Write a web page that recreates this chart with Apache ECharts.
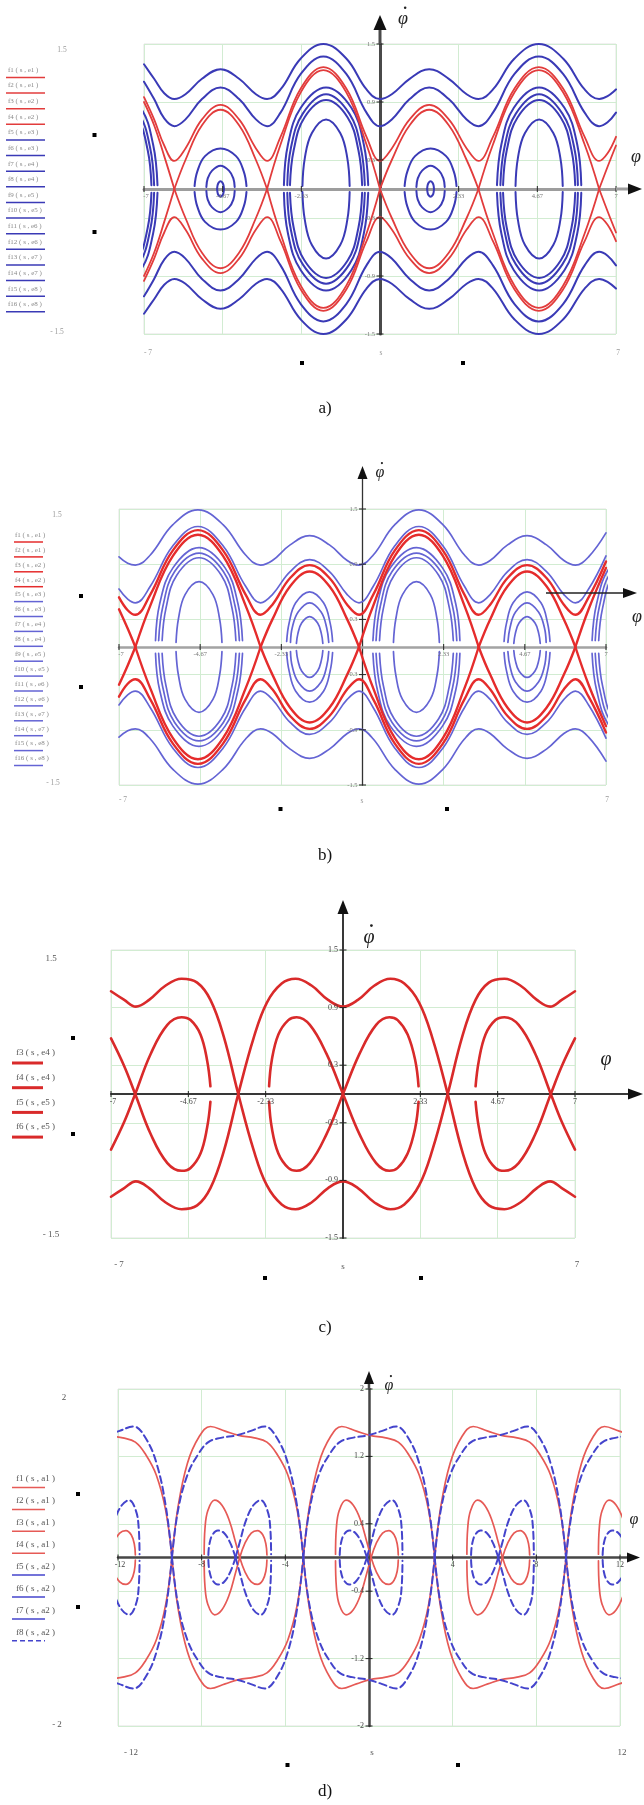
<!DOCTYPE html>
<html>
<head>
<meta charset="utf-8">
<script src="https://cdn.jsdelivr.net/npm/echarts@6/dist/echarts.min.js"></script>
<style>
  html, body { margin: 0; padding: 0; background: #fff; }
  #chart { width: 644px; height: 1805px; }
</style>
</head>
<body>
<div id="chart"></div>
<script>
// ---------------- Panel a: phase trajectories, φ in [-7, 7] ----------------
// common φ grid for the unbounded (rotational) trajectories and separatrices
const aPhi = [-7,-6.7,-6.4,-6.1,-5.77,-5.28,-4.73,-4.18,-3.68,-3.35,-2.95,-2.35,-1.68,-1.0,-0.4,0,0.35,0.88,1.46,2.04,2.57,2.92,3.35,3.99,4.71,5.43,6.07,6.5,6.75,7];
const aSepUp = [0.9,0.66,0.34,0,0.3,0.66,0.82,0.66,0.3,0,0.46,1.0,1.23,1.0,0.46,0,0.3,0.66,0.82,0.66,0.3,0,0.46,1.0,1.23,1.0,0.46,0,0.23,0.45];
const aSepDn = [-0.9,-0.66,-0.34,0,-0.3,-0.66,-0.82,-0.66,-0.3,0,-0.46,-1.0,-1.23,-1.0,-0.46,0,-0.3,-0.66,-0.82,-0.66,-0.3,0,-0.46,-1.0,-1.23,-1.0,-0.46,0,-0.23,-0.45];
const aRedRotUp = [0.95,0.72,0.45,0.29,0.42,0.72,0.87,0.72,0.42,0.29,0.54,1.04,1.26,1.04,0.54,0.29,0.42,0.72,0.87,0.72,0.42,0.29,0.54,1.04,1.26,1.04,0.54,0.29,0.37,0.54];
const aRedRotDn = [-0.95,-0.72,-0.45,-0.29,-0.42,-0.72,-0.87,-0.72,-0.42,-0.29,-0.54,-1.04,-1.26,-1.04,-0.54,-0.29,-0.42,-0.72,-0.87,-0.72,-0.42,-0.29,-0.54,-1.04,-1.26,-1.04,-0.54,-0.29,-0.37,-0.54];
const aBlue1Up = [1.29,1.14,0.99,0.93,0.98,1.14,1.24,1.14,0.98,0.93,1.03,1.35,1.5,1.35,1.03,0.93,0.98,1.14,1.24,1.14,0.98,0.93,1.03,1.35,1.5,1.35,1.03,0.93,0.96,1.03];
const aBlue1Dn = [-1.29,-1.14,-0.99,-0.93,-0.98,-1.14,-1.24,-1.14,-0.98,-0.93,-1.03,-1.35,-1.5,-1.35,-1.03,-0.93,-0.98,-1.14,-1.24,-1.14,-0.98,-0.93,-1.03,-1.35,-1.5,-1.35,-1.03,-0.93,-0.96,-1.03];
const aBlue2Up = [1.11,0.93,0.73,0.65,0.72,0.93,1.05,0.93,0.72,0.65,0.79,1.19,1.37,1.19,0.79,0.65,0.72,0.93,1.05,0.93,0.72,0.65,0.79,1.19,1.37,1.19,0.79,0.65,0.69,0.79];
const aBlue2Dn = [-1.11,-0.93,-0.73,-0.65,-0.72,-0.93,-1.05,-0.93,-0.72,-0.65,-0.79,-1.19,-1.37,-1.19,-0.79,-0.65,-0.72,-0.93,-1.05,-0.93,-0.72,-0.65,-0.79,-1.19,-1.37,-1.19,-0.79,-0.65,-0.69,-0.79];
// closed orbits: upper / lower branch heights
const aS1Up = [0.03,0.18,0.34,0.42,0.34,0.18,0.03],  aS1Dn = [-0.03,-0.18,-0.34,-0.42,-0.34,-0.18,-0.03];
const aS2Up = [0.02,0.11,0.19,0.24,0.19,0.11,0.02],  aS2Dn = [-0.02,-0.11,-0.19,-0.24,-0.19,-0.11,-0.02];
const aS3Up = [0,0.035,0.064,0.08,0.064,0.035,0],    aS3Dn = [0,-0.035,-0.064,-0.08,-0.064,-0.035,0];
const aL1Up = [0.04,0.46,0.84,1.05,0.84,0.46,0.04],  aL1Dn = [-0.04,-0.46,-0.84,-1.05,-0.84,-0.46,-0.04];
const aL2Up = [0.04,0.43,0.78,0.98,0.78,0.43,0.04],  aL2Dn = [-0.04,-0.43,-0.78,-0.98,-0.78,-0.43,-0.04];
const aL3Up = [0.04,0.40,0.74,0.92,0.74,0.40,0.04],  aL3Dn = [-0.04,-0.40,-0.74,-0.92,-0.74,-0.40,-0.04];
const aL4Up = [0.03,0.32,0.58,0.72,0.58,0.32,0.03],  aL4Dn = [-0.03,-0.32,-0.58,-0.72,-0.58,-0.32,-0.03];
const aOvals = [
  {x:[-5.5,-5.42,-5.19,-4.73,-4.27,-4.04,-3.96], up:aS1Up, dn:aS1Dn},
  {x:[0.73,0.81,1.04,1.5,1.96,2.19,2.27],        up:aS1Up, dn:aS1Dn},
  {x:[-5.15,-5.11,-4.98,-4.73,-4.48,-4.35,-4.31], up:aS2Up, dn:aS2Dn},
  {x:[1.08,1.12,1.25,1.5,1.75,1.88,1.92],        up:aS2Up, dn:aS2Dn},
  {x:[-4.83,-4.82,-4.79,-4.73,-4.67,-4.64,-4.63], up:aS3Up, dn:aS3Dn},
  {x:[1.4,1.41,1.44,1.5,1.56,1.59,1.6],          up:aS3Up, dn:aS3Dn},
  {x:[-2.85,-2.73,-2.35,-1.6,-0.85,-0.48,-0.35], up:aL1Up, dn:aL1Dn},
  {x:[3.47,3.6,3.97,4.72,5.47,5.85,5.97],        up:aL1Up, dn:aL1Dn},
  {x:[-9.1,-8.98,-8.6,-7.85,-7.1,-6.73,-6.6],    up:aL1Up, dn:aL1Dn},
  {x:[-2.75,-2.64,-2.29,-1.6,-0.91,-0.57,-0.45], up:aL2Up, dn:aL2Dn},
  {x:[3.57,3.69,4.03,4.72,5.41,5.76,5.87],       up:aL2Up, dn:aL2Dn},
  {x:[-9.0,-8.89,-8.54,-7.85,-7.16,-6.82,-6.7],  up:aL2Up, dn:aL2Dn},
  {x:[-2.67,-2.56,-2.24,-1.6,-0.96,-0.64,-0.53], up:aL3Up, dn:aL3Dn},
  {x:[3.65,3.76,4.08,4.72,5.36,5.68,5.79],       up:aL3Up, dn:aL3Dn},
  {x:[-8.92,-8.81,-8.49,-7.85,-7.21,-6.89,-6.78], up:aL3Up, dn:aL3Dn},
  {x:[-2.3,-2.23,-2.02,-1.6,-1.18,-0.97,-0.9],   up:aL4Up, dn:aL4Dn},
  {x:[4.02,4.09,4.3,4.72,5.14,5.35,5.42],        up:aL4Up, dn:aL4Dn}
];
const aLegend = ['f1 ( s , e1 )','f2 ( s , e1 )','f3 ( s , e2 )','f4 ( s , e2 )','f5 ( s , e3 )','f6 ( s , e3 )','f7 ( s , e4 )','f8 ( s , e4 )','f9 ( s , e5 )','f10 ( s , e5 )','f11 ( s , e6 )','f12 ( s , e6 )','f13 ( s , e7 )','f14 ( s , e7 )','f15 ( s , e8 )','f16 ( s , e8 )'];

// ---------------- Panel b ----------------
const bPhi = [-7,-6.75,-6.53,-6.1,-5.45,-4.73,-4.01,-3.36,-2.93,-2.59,-2.08,-1.52,-0.95,-0.44,-0.1,0.31,0.93,1.62,2.31,2.93,3.34,3.67,4.17,4.73,5.29,5.79,6.12,6.5,7];
const bSepUp = [0.41,0.2,0,0.45,0.99,1.22,0.99,0.45,0,0.3,0.66,0.82,0.66,0.3,0,0.45,0.99,1.22,0.99,0.45,0,0.3,0.66,0.82,0.66,0.3,0,0.41,0.86];
const bSepDn = [-0.41,-0.2,0,-0.45,-0.99,-1.22,-0.99,-0.45,0,-0.3,-0.66,-0.82,-0.66,-0.3,0,-0.45,-0.99,-1.22,-0.99,-0.45,0,-0.3,-0.66,-0.82,-0.66,-0.3,0,-0.41,-0.86];
const bRedRotUp = [0.54,0.4,0.35,0.57,1.05,1.27,1.05,0.57,0.35,0.46,0.75,0.89,0.75,0.46,0.35,0.57,1.05,1.27,1.05,0.57,0.35,0.46,0.75,0.89,0.75,0.46,0.35,0.54,0.93];
const bRedRotDn = [-0.54,-0.4,-0.35,-0.57,-1.05,-1.27,-1.05,-0.57,-0.35,-0.46,-0.75,-0.89,-0.75,-0.46,-0.35,-0.57,-1.05,-1.27,-1.05,-0.57,-0.35,-0.46,-0.75,-0.89,-0.75,-0.46,-0.35,-0.54,-0.93];
const bBlue1Up = [0.98,0.91,0.89,1.0,1.33,1.49,1.33,1.0,0.89,0.94,1.11,1.21,1.11,0.94,0.89,1.0,1.33,1.49,1.33,1.0,0.89,0.94,1.11,1.21,1.11,0.94,0.89,0.98,1.24];
const bBlue1Dn = [-0.98,-0.91,-0.89,-1.0,-1.33,-1.49,-1.33,-1.0,-0.89,-0.94,-1.11,-1.21,-1.11,-0.94,-0.89,-1.0,-1.33,-1.49,-1.33,-1.0,-0.89,-0.94,-1.11,-1.21,-1.11,-0.94,-0.89,-0.98,-1.24];
const bBlue2Up = [0.63,0.52,0.48,0.66,1.1,1.31,1.1,0.66,0.48,0.57,0.82,0.95,0.82,0.57,0.48,0.66,1.1,1.31,1.1,0.66,0.48,0.57,0.82,0.95,0.82,0.57,0.48,0.63,0.99];
const bBlue2Dn = [-0.63,-0.52,-0.48,-0.66,-1.1,-1.31,-1.1,-0.66,-0.48,-0.57,-0.82,-0.95,-0.82,-0.57,-0.48,-0.66,-1.1,-1.31,-1.1,-0.66,-0.48,-0.57,-0.82,-0.95,-0.82,-0.57,-0.48,-0.63,-0.99];
const bS1Up = [0.06,0.26,0.48,0.6,0.48,0.26,0.06],   bS1Dn = [-0.06,-0.26,-0.48,-0.6,-0.48,-0.26,-0.06];
const bS2Up = [0.05,0.21,0.38,0.48,0.38,0.21,0.05],  bS2Dn = [-0.05,-0.21,-0.38,-0.48,-0.38,-0.21,-0.05];
const bS3Up = [0.04,0.14,0.26,0.33,0.26,0.14,0.04],  bS3Dn = [-0.04,-0.14,-0.26,-0.33,-0.26,-0.14,-0.04];
const bL1Up = [0.07,0.47,0.86,1.08,0.86,0.47,0.07],  bL1Dn = [-0.07,-0.47,-0.86,-1.08,-0.86,-0.47,-0.07];
const bL2Up = [0.07,0.44,0.82,1.02,0.82,0.44,0.07],  bL2Dn = [-0.07,-0.44,-0.82,-1.02,-0.82,-0.44,-0.07];
const bL3Up = [0.07,0.42,0.78,0.97,0.78,0.42,0.07],  bL3Dn = [-0.07,-0.42,-0.78,-0.97,-0.78,-0.42,-0.07];
const bL4Up = [0.05,0.31,0.57,0.71,0.57,0.31,0.05],  bL4Dn = [-0.05,-0.31,-0.57,-0.71,-0.57,-0.31,-0.05];
const bOvals = [
  {x:[-2.18,-2.11,-1.92,-1.52,-1.12,-0.93,-0.86], up:bS1Up, dn:bS1Dn},
  {x:[4.07,4.14,4.33,4.73,5.13,5.32,5.39],        up:bS1Up, dn:bS1Dn},
  {x:[-2.07,-2.02,-1.85,-1.52,-1.19,-1.03,-0.97], up:bS2Up, dn:bS2Dn},
  {x:[4.18,4.24,4.4,4.73,5.06,5.23,5.28],         up:bS2Up, dn:bS2Dn},
  {x:[-1.9,-1.86,-1.75,-1.52,-1.29,-1.18,-1.14],  up:bS3Up, dn:bS3Dn},
  {x:[4.35,4.39,4.5,4.73,4.96,5.07,5.11],         up:bS3Up, dn:bS3Dn},
  {x:[-5.95,-5.83,-5.45,-4.7,-3.95,-3.58,-3.45],  up:bL1Up, dn:bL1Dn},
  {x:[0.3,0.43,0.8,1.55,2.3,2.68,2.8],            up:bL1Up, dn:bL1Dn},
  {x:[6.6,6.73,7.1,7.85,8.6,8.98,9.1],            up:bL1Up, dn:bL1Dn},
  {x:[-5.86,-5.74,-5.4,-4.7,-4.0,-3.66,-3.54],    up:bL2Up, dn:bL2Dn},
  {x:[0.39,0.51,0.85,1.55,2.25,2.59,2.71],        up:bL2Up, dn:bL2Dn},
  {x:[6.69,6.81,7.15,7.85,8.55,8.89,9.01],        up:bL2Up, dn:bL2Dn},
  {x:[-5.76,-5.65,-5.34,-4.7,-4.06,-3.75,-3.64],  up:bL3Up, dn:bL3Dn},
  {x:[0.49,0.6,0.91,1.55,2.19,2.5,2.61],          up:bL3Up, dn:bL3Dn},
  {x:[6.79,6.9,7.21,7.85,8.49,8.8,8.91],          up:bL3Up, dn:bL3Dn},
  {x:[-5.36,-5.29,-5.1,-4.7,-4.3,-4.11,-4.04],    up:bL4Up, dn:bL4Dn},
  {x:[0.89,0.96,1.15,1.55,1.95,2.14,2.21],        up:bL4Up, dn:bL4Dn}
];
const bLegend = ['f1 ( s , e1 )','f2 ( s , e1 )','f3 ( s , e2 )','f4 ( s , e2 )','f5 ( s , e3 )','f6 ( s , e3 )','f7 ( s , e4 )','f8 ( s , e4 )','f9 ( s , e5 )','f10 ( s , e5 )','f11 ( s , e6 )','f12 ( s , e6 )','f13 ( s , e7 )','f14 ( s , e7 )','f15 ( s , e8 )','f16 ( s , e8 )'];

// ---------------- Panel c ----------------
const cPhi = [-7,-6.6,-6.25,-5.85,-5.35,-4.87,-4.4,-4.0,-3.6,-3.16,-2.7,-2.3,-1.85,-1.43,-0.95,-0.45,0,0.45,0.95,1.43,1.85,2.3,2.7,3.16,3.6,4.0,4.4,4.87,5.35,5.85,6.25,6.6,7];
const cOuterA = [1.07,0.98,0.91,0.98,1.13,1.2,1.16,0.98,0.6,0,-0.58,-0.95,-1.15,-1.2,-1.13,-0.98,-0.91,-0.98,-1.13,-1.2,-1.15,-0.95,-0.58,0,0.6,0.98,1.16,1.2,1.13,0.98,0.91,0.98,1.07];
const cOuterB = [-1.07,-0.98,-0.91,-0.98,-1.13,-1.2,-1.16,-0.98,-0.6,0,0.58,0.95,1.15,1.2,1.13,0.98,0.91,0.98,1.13,1.2,1.15,0.95,0.58,0,-0.6,-0.98,-1.16,-1.2,-1.13,-0.98,-0.91,-0.98,-1.07];
const cInner = [
  [[-2.23,0.08],[-2.15,0.35],[-1.95,0.62],[-1.65,0.77],[-1.4,0.8],[-1.0,0.72],[-0.5,0.42],[0,0],[0.5,-0.42],[1.0,-0.72],[1.4,-0.8],[1.65,-0.77],[1.95,-0.62],[2.18,-0.35],[2.28,-0.08]],
  [[-2.23,-0.08],[-2.15,-0.35],[-1.95,-0.62],[-1.65,-0.77],[-1.4,-0.8],[-1.0,-0.72],[-0.5,-0.42],[0,0],[0.5,0.42],[1.0,0.72],[1.4,0.8],[1.65,0.77],[1.95,0.62],[2.18,0.35],[2.28,0.08]],
  [[-7,0.58],[-6.6,0.29],[-6.27,0],[-5.8,-0.42],[-5.3,-0.72],[-4.87,-0.8],[-4.6,-0.77],[-4.3,-0.62],[-4.1,-0.35],[-4.0,-0.08]],
  [[-7,-0.58],[-6.6,-0.29],[-6.27,0],[-5.8,0.42],[-5.3,0.72],[-4.87,0.8],[-4.6,0.77],[-4.3,0.62],[-4.1,0.35],[-4.0,0.08]],
  [[4.0,0.08],[4.1,0.35],[4.3,0.62],[4.6,0.77],[4.87,0.8],[5.3,0.72],[5.8,0.42],[6.27,0],[6.6,-0.29],[7,-0.58]],
  [[4.0,-0.08],[4.1,-0.35],[4.3,-0.62],[4.6,-0.77],[4.87,-0.8],[5.3,-0.72],[5.8,-0.42],[6.27,0],[6.6,0.29],[7,0.58]]
];
const cLegend = ['f3 ( s , e4 )','f4 ( s , e4 )','f5 ( s , e5 )','f6 ( s , e5 )'];

// ---------------- Panel d: φ in [-12, 12] ----------------
const dRedTop = [[-13.17,1.5],[-12.52,1.45],[-11.77,1.42],[-11.17,1.37],[-10.67,1.22],[-10.17,0.98],[-9.72,0.56],[-9.42,0],[-9.13,0.6],[-8.68,1.12],[-8.13,1.43],[-7.58,1.555],[-6.88,1.5],[-6.23,1.45],[-5.48,1.42],[-4.88,1.37],[-4.38,1.22],[-3.88,0.98],[-3.43,0.56],[-3.14,0],[-2.85,0.6],[-2.4,1.12],[-1.85,1.43],[-1.3,1.555],[-0.6,1.5],[0.05,1.45],[0.8,1.42],[1.4,1.37],[1.9,1.22],[2.4,0.98],[2.85,0.56],[3.14,0],[3.43,0.6],[3.88,1.12],[4.43,1.43],[4.98,1.555],[5.68,1.5],[6.33,1.45],[7.08,1.42],[7.68,1.37],[8.18,1.22],[8.68,0.98],[9.13,0.56],[9.42,0],[9.71,0.6],[10.16,1.12],[10.71,1.43],[11.26,1.555],[11.96,1.5],[12.61,1.45]];
const dRedBot = [[-13.17,-1.5],[-12.52,-1.45],[-11.77,-1.42],[-11.17,-1.37],[-10.67,-1.22],[-10.17,-0.98],[-9.72,-0.56],[-9.42,0],[-9.13,-0.6],[-8.68,-1.12],[-8.13,-1.43],[-7.58,-1.555],[-6.88,-1.5],[-6.23,-1.45],[-5.48,-1.42],[-4.88,-1.37],[-4.38,-1.22],[-3.88,-0.98],[-3.43,-0.56],[-3.14,0],[-2.85,-0.6],[-2.4,-1.12],[-1.85,-1.43],[-1.3,-1.555],[-0.6,-1.5],[0.05,-1.45],[0.8,-1.42],[1.4,-1.37],[1.9,-1.22],[2.4,-0.98],[2.85,-0.56],[3.14,0],[3.43,-0.6],[3.88,-1.12],[4.43,-1.43],[4.98,-1.555],[5.68,-1.5],[6.33,-1.45],[7.08,-1.42],[7.68,-1.37],[8.18,-1.22],[8.68,-0.98],[9.13,-0.56],[9.42,0],[9.71,-0.6],[10.16,-1.12],[10.71,-1.43],[11.26,-1.555],[11.96,-1.5],[12.61,-1.45]];
const dBlueTop = [[-12.61,1.45],[-11.96,1.5],[-11.26,1.555],[-10.71,1.43],[-10.16,1.12],[-9.71,0.6],[-9.42,0],[-9.13,0.56],[-8.68,0.98],[-8.18,1.22],[-7.68,1.37],[-7.08,1.42],[-6.33,1.45],[-5.68,1.5],[-4.98,1.555],[-4.43,1.43],[-3.88,1.12],[-3.43,0.6],[-3.14,0],[-2.85,0.56],[-2.4,0.98],[-1.9,1.22],[-1.4,1.37],[-0.8,1.42],[-0.05,1.45],[0.6,1.5],[1.3,1.555],[1.85,1.43],[2.4,1.12],[2.85,0.6],[3.14,0],[3.43,0.56],[3.88,0.98],[4.38,1.22],[4.88,1.37],[5.48,1.42],[6.23,1.45],[6.88,1.5],[7.58,1.555],[8.13,1.43],[8.68,1.12],[9.13,0.6],[9.42,0],[9.72,0.56],[10.17,0.98],[10.67,1.22],[11.17,1.37],[11.77,1.42],[12.52,1.45],[13.17,1.5]];
const dBlueBot = [[-12.61,-1.45],[-11.96,-1.5],[-11.26,-1.555],[-10.71,-1.43],[-10.16,-1.12],[-9.71,-0.6],[-9.42,0],[-9.13,-0.56],[-8.68,-0.98],[-8.18,-1.22],[-7.68,-1.37],[-7.08,-1.42],[-6.33,-1.45],[-5.68,-1.5],[-4.98,-1.555],[-4.43,-1.43],[-3.88,-1.12],[-3.43,-0.6],[-3.14,0],[-2.85,-0.56],[-2.4,-0.98],[-1.9,-1.22],[-1.4,-1.37],[-0.8,-1.42],[-0.05,-1.45],[0.6,-1.5],[1.3,-1.555],[1.85,-1.43],[2.4,-1.12],[2.85,-0.6],[3.14,0],[3.43,-0.56],[3.88,-0.98],[4.38,-1.22],[4.88,-1.37],[5.48,-1.42],[6.23,-1.45],[6.88,-1.5],[7.58,-1.555],[8.13,-1.43],[8.68,-1.12],[9.13,-0.6],[9.42,0],[9.72,-0.56],[10.17,-0.98],[10.67,-1.22],[11.17,-1.37],[11.77,-1.42],[12.52,-1.45],[13.17,-1.5]];
const dRedLobeUp = [
  [[-12.47,0],[-12.22,0.17],[-11.92,0.29],[-11.62,0.32],[-11.37,0.27],[-11.22,0.16],[-11.17,0.03]],
  [[-7.88,0.04],[-7.84,0.35],[-7.7,0.56],[-7.38,0.68],[-7.03,0.62],[-6.68,0.44],[-6.38,0.18],[-6.18,0],[-5.93,0.17],[-5.63,0.29],[-5.33,0.32],[-5.08,0.27],[-4.93,0.16],[-4.88,0.03]],
  [[-1.6,0.04],[-1.56,0.35],[-1.42,0.56],[-1.1,0.68],[-0.75,0.62],[-0.4,0.44],[-0.1,0.18],[0.1,0],[0.35,0.17],[0.65,0.29],[0.95,0.32],[1.2,0.27],[1.35,0.16],[1.4,0.03]],
  [[4.68,0.04],[4.72,0.35],[4.86,0.56],[5.18,0.68],[5.53,0.62],[5.88,0.44],[6.18,0.18],[6.38,0],[6.63,0.17],[6.93,0.29],[7.23,0.32],[7.48,0.27],[7.63,0.16],[7.68,0.03]],
  [[10.97,0.04],[11.01,0.35],[11.15,0.56],[11.47,0.68],[11.82,0.62],[12.17,0.44],[12.47,0.18],[12.67,0]]
];
const dRedLobeDn = [
  [[-12.47,0],[-12.22,-0.17],[-11.92,-0.29],[-11.62,-0.32],[-11.37,-0.27],[-11.22,-0.16],[-11.17,-0.03]],
  [[-7.88,-0.04],[-7.84,-0.35],[-7.7,-0.56],[-7.38,-0.68],[-7.03,-0.62],[-6.68,-0.44],[-6.38,-0.18],[-6.18,0],[-5.93,-0.17],[-5.63,-0.29],[-5.33,-0.32],[-5.08,-0.27],[-4.93,-0.16],[-4.88,-0.03]],
  [[-1.6,-0.04],[-1.56,-0.35],[-1.42,-0.56],[-1.1,-0.68],[-0.75,-0.62],[-0.4,-0.44],[-0.1,-0.18],[0.1,0],[0.35,-0.17],[0.65,-0.29],[0.95,-0.32],[1.2,-0.27],[1.35,-0.16],[1.4,-0.03]],
  [[4.68,-0.04],[4.72,-0.35],[4.86,-0.56],[5.18,-0.68],[5.53,-0.62],[5.88,-0.44],[6.18,-0.18],[6.38,0],[6.63,-0.17],[6.93,-0.29],[7.23,-0.32],[7.48,-0.27],[7.63,-0.16],[7.68,-0.03]],
  [[10.97,-0.04],[11.01,-0.35],[11.15,-0.56],[11.47,-0.68],[11.82,-0.62],[12.17,-0.44],[12.47,-0.18],[12.67,0]]
];
const dBlueLobeUp = [
  [[-12.67,0],[-12.47,0.18],[-12.17,0.44],[-11.82,0.62],[-11.47,0.68],[-11.15,0.56],[-11.01,0.35],[-10.97,0.04]],
  [[-7.68,0.03],[-7.63,0.16],[-7.48,0.27],[-7.23,0.32],[-6.93,0.29],[-6.63,0.17],[-6.38,0],[-6.18,0.18],[-5.88,0.44],[-5.53,0.62],[-5.18,0.68],[-4.86,0.56],[-4.72,0.35],[-4.68,0.04]],
  [[-1.4,0.03],[-1.35,0.16],[-1.2,0.27],[-0.95,0.32],[-0.65,0.29],[-0.35,0.17],[-0.1,0],[0.1,0.18],[0.4,0.44],[0.75,0.62],[1.1,0.68],[1.42,0.56],[1.56,0.35],[1.6,0.04]],
  [[4.88,0.03],[4.93,0.16],[5.08,0.27],[5.33,0.32],[5.63,0.29],[5.93,0.17],[6.18,0],[6.38,0.18],[6.68,0.44],[7.03,0.62],[7.38,0.68],[7.7,0.56],[7.84,0.35],[7.88,0.04]],
  [[11.17,0.03],[11.22,0.16],[11.37,0.27],[11.62,0.32],[11.92,0.29],[12.22,0.17],[12.47,0]]
];
const dBlueLobeDn = [
  [[-12.67,0],[-12.47,-0.18],[-12.17,-0.44],[-11.82,-0.62],[-11.47,-0.68],[-11.15,-0.56],[-11.01,-0.35],[-10.97,-0.04]],
  [[-7.68,-0.03],[-7.63,-0.16],[-7.48,-0.27],[-7.23,-0.32],[-6.93,-0.29],[-6.63,-0.17],[-6.38,0],[-6.18,-0.18],[-5.88,-0.44],[-5.53,-0.62],[-5.18,-0.68],[-4.86,-0.56],[-4.72,-0.35],[-4.68,-0.04]],
  [[-1.4,-0.03],[-1.35,-0.16],[-1.2,-0.27],[-0.95,-0.32],[-0.65,-0.29],[-0.35,-0.17],[-0.1,0],[0.1,-0.18],[0.4,-0.44],[0.75,-0.62],[1.1,-0.68],[1.42,-0.56],[1.56,-0.35],[1.6,-0.04]],
  [[4.88,-0.03],[4.93,-0.16],[5.08,-0.27],[5.33,-0.32],[5.63,-0.29],[5.93,-0.17],[6.18,0],[6.38,-0.18],[6.68,-0.44],[7.03,-0.62],[7.38,-0.68],[7.7,-0.56],[7.84,-0.35],[7.88,-0.04]],
  [[11.17,-0.03],[11.22,-0.16],[11.37,-0.27],[11.62,-0.32],[11.92,-0.29],[12.22,-0.17],[12.47,0]]
];
const dLegend = ['f1 ( s , a1 )','f2 ( s , a1 )','f3 ( s , a1 )','f4 ( s , a1 )','f5 ( s , a2 )','f6 ( s , a2 )','f7 ( s , a2 )','f8 ( s , a2 )'];

// tick values and their labels on the axes through the origin
const phiTicks7  = [-7, -7/3*2, -7/3, 7/3, 7/3*2, 7];
const phiLabels7 = ['-7', '-4.67', '-2.33', '2.33', '4.67', '7'];
const rateTicks15  = [-1.5, -0.9, -0.3, 0.3, 0.9, 1.5];
const rateLabels15 = ['-1.5', '-0.9', '-0.3', '0.3', '0.9', '1.5'];
const phiTicks12  = [-12, -8, -4, 4, 8, 12];
const phiLabels12 = ['-12', '-8', '-4', '4', '8', '12'];
const rateTicks2  = [-2, -1.2, -0.4, 0.4, 1.2, 2];
const rateLabels2 = ['-2', '-1.2', '-0.4', '0.4', '1.2', '2'];

// axis ranges and grid steps per panel
const ranges = [
  {xMin:-7, xMax:7, xStep:7/3, yMin:-1.5, yMax:1.5, yStep:0.6},
  {xMin:-7, xMax:7, xStep:7/3, yMin:-1.5, yMax:1.5, yStep:0.6},
  {xMin:-7, xMax:7, xStep:7/3, yMin:-1.5, yMax:1.5, yStep:0.6},
  {xMin:-12, xMax:12, xStep:4, yMin:-2, yMax:2, yStep:0.8}
];

// ---------------- drawing ----------------
const SERIF = "'Liberation Serif','DejaVu Serif',serif";
const RED_A = '#e23c3c', BLUE_A = '#3a3ab6';
const RED_B = '#e52c2c', BLUE_B = '#6464d4';
const RED_C = '#d92a2a';
const RED_D = '#e65a56', BLUE_D = '#4444cc';

const boxes = [
  {left:144, top:44,   width:472, height:290},
  {left:119, top:509,  width:487, height:276},
  {left:111, top:950,  width:464, height:288},
  {left:118, top:1389, width:502, height:337}
];
const axisStyle = [
  {x:{color:'#9d9d9d', width:3},   y:{color:'#4a4a4a', width:3},   lab:'#777', fs:6.5},
  {x:{color:'#a3a3a3', width:2.5}, y:{color:'#333', width:1.3},    lab:'#777', fs:6.5},
  {x:{color:'#383838', width:2},   y:{color:'#383838', width:2},   lab:'#444', fs:8},
  {x:{color:'#474747', width:2.5}, y:{color:'#474747', width:2.5}, lab:'#444', fs:8}
];

const series = [];
function addLine(g, pts, color, width, dash) {
  series.push({
    type: 'line', xAxisIndex: g, yAxisIndex: g, data: pts,
    symbol: 'none', showSymbol: false, smooth: 0.4, clip: true, silent: true,
    lineStyle: { color: color, width: width, type: dash || 'solid', cap: 'round', join: 'round' }
  });
}
const zip = (xs, ys) => xs.map((x, i) => [x, ys[i]]);
// separatrix branches touch zero at the saddles: draw each cell as its own arc
function splitAtZero(pts) {
  const arcs = []; let cur = [];
  pts.forEach(p => { cur.push(p); if (p[1] === 0 && cur.length > 1) { arcs.push(cur); cur = [p]; } });
  if (cur.length > 1) arcs.push(cur);
  return arcs;
}

// panel a
aOvals.forEach(o => { addLine(0, zip(o.x, o.up), BLUE_A, 2); addLine(0, zip(o.x, o.dn), BLUE_A, 2); });
[aBlue1Up, aBlue1Dn, aBlue2Up, aBlue2Dn].forEach(ys => addLine(0, zip(aPhi, ys), BLUE_A, 2));
[aRedRotUp, aRedRotDn].forEach(ys => addLine(0, zip(aPhi, ys), RED_A, 1.8));
[aSepUp, aSepDn].forEach(ys => splitAtZero(zip(aPhi, ys)).forEach(arc => addLine(0, arc, RED_A, 1.8)));
// panel b
bOvals.forEach(o => { addLine(1, zip(o.x, o.up), BLUE_B, 1.7); addLine(1, zip(o.x, o.dn), BLUE_B, 1.7); });
[bBlue1Up, bBlue1Dn, bBlue2Up, bBlue2Dn].forEach(ys => addLine(1, zip(bPhi, ys), BLUE_B, 1.7));
[bRedRotUp, bRedRotDn].forEach(ys => addLine(1, zip(bPhi, ys), RED_B, 2.4));
[bSepUp, bSepDn].forEach(ys => splitAtZero(zip(bPhi, ys)).forEach(arc => addLine(1, arc, RED_B, 2.4)));
// panel c
[cOuterA, cOuterB].forEach(ys => addLine(2, zip(cPhi, ys), RED_C, 2.6));
cInner.forEach(arc => addLine(2, arc, RED_C, 2.6));
// panel d
[dRedTop, dRedBot].forEach(p => splitAtZero(p).forEach(arc => addLine(3, arc, RED_D, 1.7)));
[dRedLobeUp, dRedLobeDn].forEach(list => list.forEach(p => splitAtZero(p).forEach(arc => addLine(3, arc, RED_D, 1.7))));
[dBlueTop, dBlueBot].forEach(p => splitAtZero(p).forEach(arc => addLine(3, arc, BLUE_D, 2, [7, 4])));
[dBlueLobeUp, dBlueLobeDn].forEach(list => list.forEach(p => splitAtZero(p).forEach(arc => addLine(3, arc, BLUE_D, 2, [7, 4]))));

const chart = echarts.init(document.getElementById('chart'), null, { renderer: 'canvas' });
chart.setOption({
  animation: false,
  backgroundColor: '#fff',
  grid: boxes.map(b => ({ left: b.left, top: b.top, width: b.width, height: b.height, show: true,
    borderColor: '#e3e3e3', borderWidth: 1, backgroundColor: 'transparent' })),
  xAxis: ranges.map((r, i) => ({
    gridIndex: i, type: 'value', min: r.xMin, max: r.xMax, interval: r.xStep,
    axisLine: { onZero: true, lineStyle: axisStyle[i].x },
    axisTick: { show: false }, axisLabel: { show: false },
    splitLine: { show: true, lineStyle: { color: '#d2ecd2', width: 1 } }
  })),
  yAxis: ranges.map((r, i) => ({
    gridIndex: i, type: 'value', min: r.yMin, max: r.yMax, interval: r.yStep,
    axisLine: { onZero: true, lineStyle: axisStyle[i].y },
    axisTick: { show: false }, axisLabel: { show: false },
    splitLine: { show: true, lineStyle: { color: '#d2ecd2', width: 1 } }
  })),
  series: series
});

// ---------------- decorations ----------------
const G = [];
function text(x, y, s, font, color, align) {
  G.push({ type: 'text', x: x, y: y, z: 100, silent: true,
    style: { text: s, font: font, fill: color, align: align || 'center', verticalAlign: 'middle' } });
}
function seg(x1, y1, x2, y2, color, w, dash) {
  G.push({ type: 'line', z: 100, silent: true, shape: { x1: x1, y1: y1, x2: x2, y2: y2 },
    style: { stroke: color, lineWidth: w, lineDash: dash || null } });
}
function tri(pts) { G.push({ type: 'polygon', z: 101, silent: true, shape: { points: pts }, style: { fill: '#111' } }); }
function dot(x, y) { G.push({ type: 'rect', z: 100, silent: true, shape: { x: x - 2, y: y - 2, width: 4, height: 4 }, style: { fill: '#000' } }); }
function phiDot(x, y, size) {
  // φ with a derivative dot above it
  text(x, y, 'φ', 'italic ' + size + 'px ' + SERIF, '#222');
  G.push({ type: 'circle', z: 101, silent: true, shape: { cx: x + size * 0.12, cy: y - size * 0.62, r: size * 0.07 }, style: { fill: '#222' } });
}
function legend(labels, colors, x, y0, dy, ul, x1, x2, w, font, tcol, dashes) {
  labels.forEach((s, i) => {
    const y = y0 + dy * i;
    text(x, y, s, font, tcol, 'left');
    seg(x1, y + ul, x2, y + ul, colors[i], w, dashes ? dashes[i] : null);
  });
}
const redBlue = (n, r, c1, c2) => Array.from({ length: n }, (_, i) => (i < r ? c1 : c2));
// tick marks and labels placed on the axes through the origin, via the grid's own scales
function axisTicks(g, xt, xl, yt, yl) {
  const st = axisStyle[g], font = st.fs + 'px ' + SERIF;
  xt.forEach((v, i) => {
    const p = chart.convertToPixel({ gridIndex: g }, [v, 0]);
    seg(p[0], p[1] - 3, p[0], p[1] + 3, '#222', 1);
    text(p[0] + (i === 0 ? 2 : 0), p[1] + 3 + st.fs * 0.6, xl[i], font, st.lab);
  });
  yt.forEach((v, i) => {
    const p = chart.convertToPixel({ gridIndex: g }, [0, v]);
    seg(p[0] - 3.5, p[1], p[0] + 3.5, p[1], '#222', 1);
    text(p[0] - 5, p[1], yl[i], font, st.lab, 'right');
  });
}
axisTicks(0, phiTicks7, phiLabels7, rateTicks15, rateLabels15);
axisTicks(1, phiTicks7, phiLabels7, rateTicks15, rateLabels15);
axisTicks(2, phiTicks7, phiLabels7, rateTicks15, rateLabels15);
axisTicks(3, phiTicks12, phiLabels12, rateTicks2, rateLabels2);

// panel a
legend(aLegend, redBlue(16, 4, RED_A, BLUE_A), 8, 70, 15.62, 7.5, 6, 45, 1.5, '7px ' + SERIF, '#8a8a8a');
text(62, 50, '1.5', '7.5px ' + SERIF, '#999'); text(57, 332, '- 1.5', '7.5px ' + SERIF, '#999');
text(148, 353, '- 7', '7.5px ' + SERIF, '#999'); text(381, 353, 's', '7.5px ' + SERIF, '#999'); text(618, 353, '7', '7.5px ' + SERIF, '#999');
dot(94.5, 135); dot(94.5, 232); dot(302, 363); dot(463, 363);
seg(380, 44, 380, 28, '#4a4a4a', 3); tri([[380, 15], [373.5, 30], [386.5, 30]]);
seg(616, 189, 630, 189, '#9d9d9d', 3); tri([[642, 189], [628, 183.5], [628, 194.5]]);
phiDot(403, 19, 18); text(636, 157, 'φ', 'italic 18px ' + SERIF, '#222');
text(325, 409, 'a)', '17px ' + SERIF, '#111');

// panel b
legend(bLegend, redBlue(16, 4, RED_B, BLUE_B), 15, 535, 14.9, 7, 14, 43, 1.5, '7px ' + SERIF, '#8a8a8a');
text(57, 515, '1.5', '7.5px ' + SERIF, '#999'); text(53, 783, '- 1.5', '7.5px ' + SERIF, '#999');
text(123, 800, '- 7', '7.5px ' + SERIF, '#999'); text(362, 801, 's', '7.5px ' + SERIF, '#999'); text(607, 800, '7', '7.5px ' + SERIF, '#999');
dot(81, 596); dot(81, 687); dot(280.5, 809); dot(447, 809);
seg(362.5, 509, 362.5, 478, '#333', 1.3); tri([[362.5, 466], [357.5, 479], [367.5, 479]]);
seg(546, 593, 625, 593, '#222', 1.3); tri([[637, 593], [623, 588], [623, 598]]);
phiDot(380, 473, 16); text(637, 617, 'φ', 'italic 18px ' + SERIF, '#222');
text(325, 856, 'b)', '17px ' + SERIF, '#111');

// panel c
legend(cLegend, redBlue(4, 4, RED_C, RED_C), 16, 1053, 24.7, 10, 12, 43, 3, '9px ' + SERIF, '#555');
text(51, 959, '1.5', '9px ' + SERIF, '#555'); text(51, 1235, '- 1.5', '9px ' + SERIF, '#555');
text(119, 1265, '- 7', '9px ' + SERIF, '#555'); text(343, 1267, 's', '9px ' + SERIF, '#555'); text(577, 1265, '7', '9px ' + SERIF, '#555');
dot(73, 1038); dot(73, 1134); dot(265, 1278); dot(421, 1278);
seg(343, 950, 343, 912, '#383838', 2); tri([[343, 900], [337.5, 914], [348.5, 914]]);
seg(575, 1094, 630, 1094, '#383838', 2); tri([[643, 1094], [628, 1088.5], [628, 1099.5]]);
phiDot(369, 938, 20); text(606, 1060, 'φ', 'italic 20px ' + SERIF, '#222');
text(325, 1328, 'c)', '17px ' + SERIF, '#111');

// panel d
legend(dLegend, redBlue(8, 4, RED_D, BLUE_D), 16, 1479, 21.9, 8.5, 12, 45, 1.5, '9px ' + SERIF, '#555',
  [null, null, null, null, null, null, null, [5, 3]]);
text(64, 1398, '2', '9px ' + SERIF, '#555'); text(57, 1725, '- 2', '9px ' + SERIF, '#555');
text(131, 1753, '- 12', '9px ' + SERIF, '#555'); text(372, 1753, 's', '9px ' + SERIF, '#555'); text(622, 1753, '12', '9px ' + SERIF, '#555');
dot(78, 1494); dot(78, 1607); dot(287.5, 1765); dot(458, 1765);
seg(369, 1389, 369, 1383, '#474747', 2.5); tri([[369, 1371], [364, 1384], [374, 1384]]);
seg(620, 1557.5, 628, 1557.5, '#474747', 2.5); tri([[640, 1557.5], [627, 1552.5], [627, 1562.5]]);
phiDot(389, 1386, 16); text(634, 1520, 'φ', 'italic 16px ' + SERIF, '#222');
text(325, 1792, 'd)', '17px ' + SERIF, '#111');

chart.setOption({ graphic: { elements: G } });
</script>
</body>
</html>
